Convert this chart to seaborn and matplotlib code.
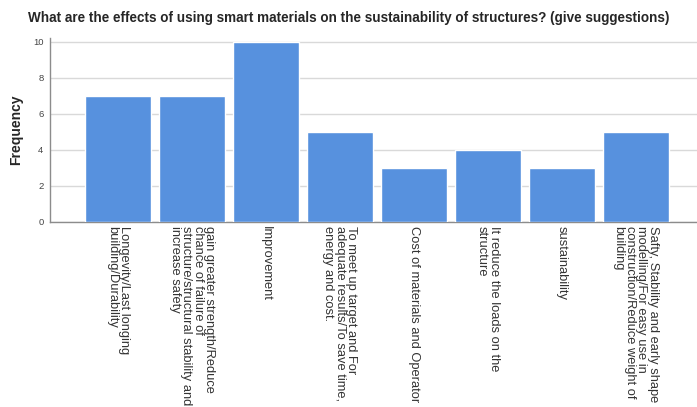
import matplotlib
matplotlib.use("Agg")
import matplotlib.pyplot as plt
import seaborn as sns
import pandas as pd

# Survey responses and their counts
categories = [
    "Longevity/Last longing\nbuilding/Durability",
    "gain greater strength/Reduce\nchance of failure of\nstructure/structural stability and\nincrease safety",
    "Improvement",
    "To meet up target and For\nadequate results/To save time,\nenergy and cost.",
    "Cost of materials and Operator",
    "It reduce the loads on the\nstructure",
    "sustainability",
    "Safty, Stability and early shape\nmodelling/For easy use in\nconstruction/Reduce weight of\nbuilding",
]
frequency = [7, 7, 10, 5, 3, 4, 3, 5]
y_ticks = [0, 2, 4, 6, 8, 10]

sns.set_theme(style="white")
plt.rcParams["font.family"] = ["Liberation Sans", "DejaVu Sans"]

df = pd.DataFrame({"response": categories, "count": frequency})

fig = plt.figure(figsize=(6.97, 4.07), dpi=100)
ax = fig.add_axes([50 / 697, 1 - 222 / 407, 1 - 50 / 697, (222 - 38) / 407])

sns.barplot(data=df, x="response", y="count", color="#5791DE", saturation=1,
            width=0.89, ax=ax, zorder=3)

ax.set_xlim(-0.92, 7.83)
ax.set_ylim(0, 10.2)
ax.set_yticks(y_ticks)
ax.set_yticklabels([str(t) for t in y_ticks], fontsize=6.8, color="#444444")
ax.yaxis.grid(True, color="#d9d9d9", linewidth=1.0, zorder=0)
ax.set_axisbelow(True)

for side in ["top", "right"]:
    ax.spines[side].set_visible(False)
for side in ["left", "bottom"]:
    ax.spines[side].set_color("#8c8c8c")
    ax.spines[side].set_linewidth(1.0)

ax.tick_params(axis="y", length=0, pad=4.7)
ax.tick_params(axis="x", length=0, pad=3)
ax.set_xlabel("")
ax.set_ylabel("Frequency", fontsize=10, fontweight="bold", labelpad=7)

for lbl in ax.get_xticklabels():
    lbl.set_rotation(270)
    lbl.set_ha("center")
    lbl.set_va("top")
    lbl.set_multialignment("left")
    lbl.set_fontsize(9.3)
    lbl.set_color("#333333")
    lbl.set_linespacing(0.95)

fig.suptitle("What are the effects of using smart materials on the sustainability of structures? (give suggestions)",
             fontsize=9.75, fontweight="bold", x=0.5, y=1 - 18 / 407, va="center")

fig.savefig("out.png", dpi=100)
